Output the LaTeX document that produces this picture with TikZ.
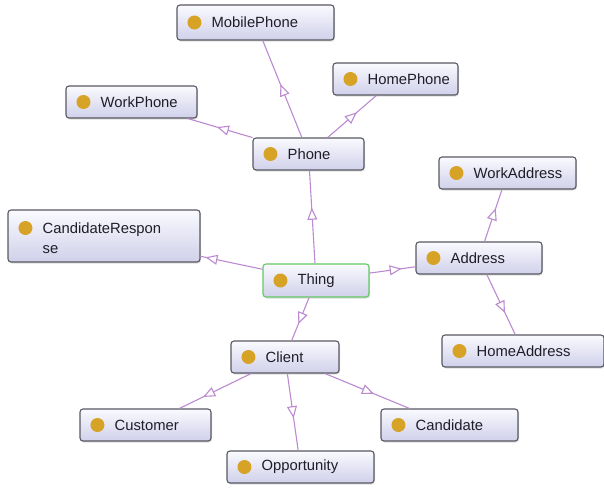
\documentclass[tikz,border=0pt]{standalone}
\usepackage{fontspec}
\setmainfont{Liberation Sans}
\usetikzlibrary{arrows.meta,decorations.markings,shadows}

\definecolor{boxline}{RGB}{88,88,98}
\definecolor{boxtop}{RGB}{250,250,255}
\definecolor{boxbot}{RGB}{208,208,234}
\definecolor{dotcol}{RGB}{214,163,38}
\definecolor{rootline}{RGB}{100,200,100}
\definecolor{edgecol}{RGB}{188,138,208}
\definecolor{txtcol}{RGB}{30,30,40}

\tikzset{
  clsbox/.style={draw=boxline, line width=1.1pt, rounded corners=3pt,
    top color=boxtop, bottom color=boxbot, inner sep=0pt,
    drop shadow={shadow xshift=1pt, shadow yshift=-1.5pt, opacity=0.25}},
  rootbox/.style={draw=rootline},
  clstext/.style={font=\fontsize{14.8}{20}\selectfont, text=txtcol, inner sep=0pt},
  isa/.style={draw=edgecol, line width=1.1pt, postaction={decorate},
    decoration={markings, mark=at position #1 with
      {\arrow{Triangle[length=12pt,width=10pt,fill=white,line width=1.1pt]}}}},
}

% one class box: [extra style]{name}{x}{y}{width}{height}{text}
\newcommand\owlcls[7][]{%
  \node[clsbox,#1,minimum width=#5pt,minimum height=#6pt] (#2) at (#3,#4) {};
  \fill[dotcol] ([xshift=18pt]#2.west) circle (7pt);
  \node[clstext,anchor=west] (#2-label) at ([xshift=35pt]#2.west) {#7};
}

\begin{document}
\begin{tikzpicture}[x=1pt,y=-1pt]
\useasboundingbox (0,0) rectangle (604,488);

\owlcls{mobile}{255.5}{22.5}{157}{35}{MobilePhone}
\owlcls{homephone}{395.5}{79}{125}{32}{HomePhone}
\owlcls{workphone}{131.5}{102}{131}{32}{WorkPhone}
\owlcls{phone}{308.5}{154}{111}{32}{Phone}
\owlcls{workaddr}{507.5}{173}{137}{32}{WorkAddress}
\owlcls[rootbox]{thing}{316}{280.5}{106}{33}{Thing}
\owlcls{address}{479}{258}{126}{32}{Address}
\owlcls{homeaddr}{523}{351}{162}{32}{HomeAddress}
\owlcls{client}{285}{357}{108}{32}{Client}
\owlcls{customer}{145.5}{425}{131}{32}{Customer}
\owlcls{candidate}{449.5}{425}{137}{32}{Candidate}
\owlcls{opportunity}{300.5}{467}{147}{32}{Opportunity}

% two-line class box
\node[clsbox,minimum width=192pt,minimum height=52pt] (candresp) at (104,236) {};
\fill[dotcol] ([xshift=18pt,yshift=8pt]candresp.west) circle (7pt);
\node[clstext,anchor=west,align=left] (candresp-label)
  at ([xshift=35pt,yshift=-2pt]candresp.west) {CandidateRespon\\se};

% subclass links, arrow towards the subclass
\draw[isa=0.55] (phone) -- (mobile);
\draw[isa=0.6]  (phone) -- (homephone);
\draw[isa=0.55] (phone) -- (workphone);
\draw[isa=0.6]  (thing) -- (phone);
\draw[isa=0.92] (thing) -- (candresp);
\draw[isa=0.7]  (thing) -- (address);
\draw[isa=0.62] (thing) -- (client);
\draw[isa=0.64] (address) -- (workaddr);
\draw[isa=0.64] (address) -- (homeaddr);
\draw[isa=0.67] (client) -- (customer);
\draw[isa=0.58] (client) -- (opportunity);
\draw[isa=0.58] (client) -- (candidate);
\end{tikzpicture}
\end{document}
